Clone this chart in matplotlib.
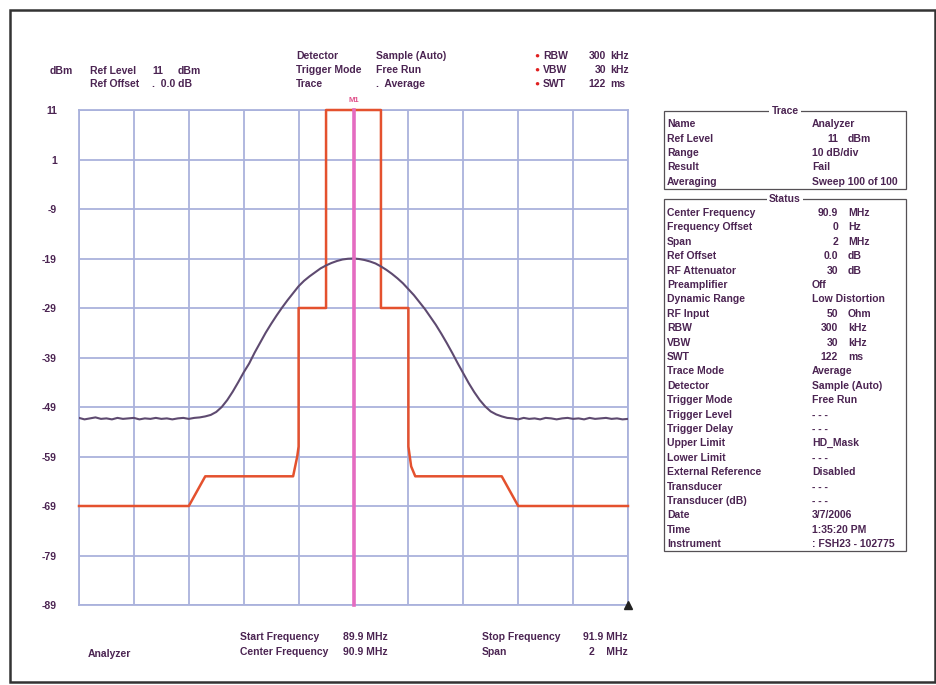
import numpy as np
import matplotlib
matplotlib.use('Agg')
import matplotlib.pyplot as plt
from matplotlib.patches import Rectangle

plt.rcParams['font.family'] = ['Liberation Sans', 'DejaVu Sans']
plt.rcParams['font.weight'] = 'bold'

# frequency span of the sweep (MHz)
f_start = 89.9
f_stop = 91.9
f_center = 90.9

# y axis levels (dBm)
levels = [11, 1, -9, -19, -29, -39, -49, -59, -69, -79, -89]

# upper limit mask (HD_Mask)
mask_freq = [89.9, 90.3, 90.36, 90.68, 90.695, 90.7, 90.7, 90.8, 90.8, 91.0, 91.0,
             91.1, 91.1, 91.11, 91.125, 91.44, 91.5, 91.9]
mask_dbm = [-69, -69, -63, -63, -59, -57, -29, -29, 11, 11, -29,
            -29, -57, -61, -63, -63, -69, -69]

# averaged trace, one reading every 0.02 MHz from 89.9 to 91.9
trace_dbm = [
    -51.2, -51.5, -51.3, -51.1, -51.4, -51.3, -51.5, -51.2, -51.4, -51.3,
    -51.2, -51.5, -51.3, -51.4, -51.2, -51.4, -51.3, -51.5, -51.3, -51.2,
    -51.4, -51.2, -51.1, -50.9, -50.6, -50.0, -49.0, -47.6, -45.9, -44.0,
    -42.0, -40.2, -38.0, -36.0, -34.0, -32.2, -30.5, -28.9, -27.4, -26.0,
    -24.6, -23.5, -22.6, -21.8, -21.0, -20.4, -19.9, -19.5, -19.2, -19.05,
    -19.0,
    -19.1, -19.3, -19.6, -20.0, -20.6, -21.3, -22.1, -23.0, -24.0, -25.2,
    -26.4, -27.8, -29.2, -30.8, -32.4, -34.2, -36.1, -38.1, -40.2, -42.2,
    -44.2, -46.0, -47.6, -48.9, -49.9, -50.5, -50.9, -51.2, -51.3, -51.5,
    -51.2, -51.4, -51.3, -51.5, -51.2, -51.3, -51.5, -51.3, -51.2, -51.4,
    -51.3, -51.5, -51.2, -51.4, -51.3, -51.2, -51.4, -51.3, -51.5, -51.4,
]

header_left = [("Ref Level", "11", "dBm"), ("Ref Offset", ".  0.0 dB", "")]
header_mid = [("Detector", "Sample (Auto)"), ("Trigger Mode", "Free Run"), ("Trace", ".  Average")]
header_right = [("RBW", "300", "kHz"), ("VBW", "30", "kHz"), ("SWT", "122", "ms")]

trace_rows = [("Name", "Analyzer", ""), ("Ref Level", "11", "dBm"), ("Range", "10 dB/div", ""),
              ("Result", "Fail", ""), ("Averaging", "Sweep 100 of 100", "")]
status_rows = [
    ("Center Frequency", "90.9", "MHz"), ("Frequency Offset", "0", "Hz"), ("Span", "2", "MHz"),
    ("Ref Offset", "0.0", "dB"), ("RF Attenuator", "30", "dB"), ("Preamplifier", "Off", ""),
    ("Dynamic Range", "Low Distortion", ""), ("RF Input", "50", "Ohm"), ("RBW", "300", "kHz"),
    ("VBW", "30", "kHz"), ("SWT", "122", "ms"), ("Trace Mode", "Average", ""),
    ("Detector", "Sample (Auto)", ""), ("Trigger Mode", "Free Run", ""),
    ("Trigger Level", "- - -", ""), ("Trigger Delay", "- - -", ""), ("Upper Limit", "HD_Mask", ""),
    ("Lower Limit", "- - -", ""), ("External Reference", "Disabled", ""), ("Transducer", "- - -", ""),
    ("Transducer (dB)", "- - -", ""), ("Date", "3/7/2006", ""), ("Time", "1:35:20 PM", ""),
    ("Instrument", ": FSH23 - 102775", ""),
]

W, H = 937, 685
txt = '#4b2452'
grid_c = '#aab2dc'


def px(x, y):
    return x / W, 1 - y / H


fig = plt.figure(figsize=(W / 100, H / 100), dpi=100)
ax = fig.add_axes([79 / W, 1 - 605 / H, 549 / W, 495 / H])

freq = np.linspace(f_start, f_stop, len(trace_dbm))
ax.plot(mask_freq, mask_dbm, color='#e4512e', lw=1.8, zorder=3, clip_on=False)
ax.plot(freq, trace_dbm, color='#5e4a70', lw=1.5, zorder=4)
ax.plot([f_center, f_center], [levels[-1], levels[0]], color='#e46cc0', lw=2.6, zorder=5, clip_on=False)
ax.text(f_center, levels[0] + 1.2, 'M1', color='#e0508a', fontsize=5.5, ha='center', va='bottom')
ax.plot([f_stop], [levels[-1]], marker='^', color='#222222', ms=6, clip_on=False, zorder=6)

ax.set_xlim(f_start, f_stop)
ax.set_ylim(levels[-1], levels[0])
ax.set_xticks(np.linspace(f_start, f_stop, 11))
ax.set_xticklabels([])
ax.set_yticks(levels)
ax.set_yticklabels([str(v) for v in levels], color=txt, fontsize=7.5)
ax.tick_params(length=0, pad=16)
ax.grid(True, color=grid_c, lw=1.3)
for s in ax.spines.values():
    s.set_color(grid_c)
    s.set_linewidth(1.3)

# header
fs = 7.5
fig.text(*px(50, 71), 'dBm', color=txt, fontsize=fs, va='center')
for i, (lab, val, unit) in enumerate(header_left):
    y = 71 + 13 * i
    fig.text(*px(90, y), lab, color=txt, fontsize=fs, va='center')
    fig.text(*px(152, y), val, color=txt, fontsize=fs, va='center')
    fig.text(*px(178, y), unit, color=txt, fontsize=fs, va='center')
for i, (lab, val) in enumerate(header_mid):
    y = 56 + 14 * i
    fig.text(*px(296, y), lab, color=txt, fontsize=fs, va='center')
    fig.text(*px(376, y), val, color=txt, fontsize=fs, va='center')
for i, (lab, val, unit) in enumerate(header_right):
    y = 56 + 14 * i
    fig.text(*px(537, y), '\u25cf', color='#e02020', fontsize=6, va='center', ha='center')
    fig.text(*px(543, y), lab, color=txt, fontsize=fs, va='center')
    fig.text(*px(606, y), val, color=txt, fontsize=fs, va='center', ha='right')
    fig.text(*px(610, y), unit, color=txt, fontsize=fs, va='center')

# footer
fig.text(*px(88, 654), 'Analyzer', color=txt, fontsize=fs, va='center')
fig.text(*px(240, 637), 'Start Frequency', color=txt, fontsize=fs, va='center')
fig.text(*px(343, 637), '%.1f MHz' % f_start, color=txt, fontsize=fs, va='center')
fig.text(*px(240, 652), 'Center Frequency', color=txt, fontsize=fs, va='center')
fig.text(*px(343, 652), '%.1f MHz' % f_center, color=txt, fontsize=fs, va='center')
fig.text(*px(482, 637), 'Stop Frequency', color=txt, fontsize=fs, va='center')
fig.text(*px(628, 637), '%.1f MHz' % f_stop, color=txt, fontsize=fs, va='center', ha='right')
fig.text(*px(482, 652), 'Span', color=txt, fontsize=fs, va='center')
fig.text(*px(628, 652), '2    MHz', color=txt, fontsize=fs, va='center', ha='right')


# right hand info panel
def group_box(top, bottom, title):
    x0, x1 = 664, 906
    fig.patches.append(Rectangle(px(x0, bottom), (x1 - x0) / W, (bottom - top) / H,
                                 transform=fig.transFigure, fill=False, ec='#555055', lw=0.9))
    fig.text(*px(785, top), title, color=txt, fontsize=fs, va='center', ha='center',
             bbox=dict(fc='white', ec='none', pad=1.5))


def rows(items, y0, step):
    for i, (lab, val, unit) in enumerate(items):
        y = y0 + step * i
        fig.text(*px(667, y), lab, color=txt, fontsize=fs, va='center')
        if unit:
            fig.text(*px(838, y), val, color=txt, fontsize=fs, va='center', ha='right')
            fig.text(*px(848, y), unit, color=txt, fontsize=fs, va='center')
        else:
            fig.text(*px(812, y), val, color=txt, fontsize=fs, va='center')


group_box(111, 189, 'Trace')
rows(trace_rows, 124, 14.5)
group_box(199, 551, 'Status')
rows(status_rows, 213, 14.4)

# scan frame
fig.patches.append(Rectangle((10 / W, 3 / H), 925 / W, 672 / H, transform=fig.transFigure,
                             fill=False, ec='#333333', lw=1.8))

fig.savefig('out.png', dpi=100)
